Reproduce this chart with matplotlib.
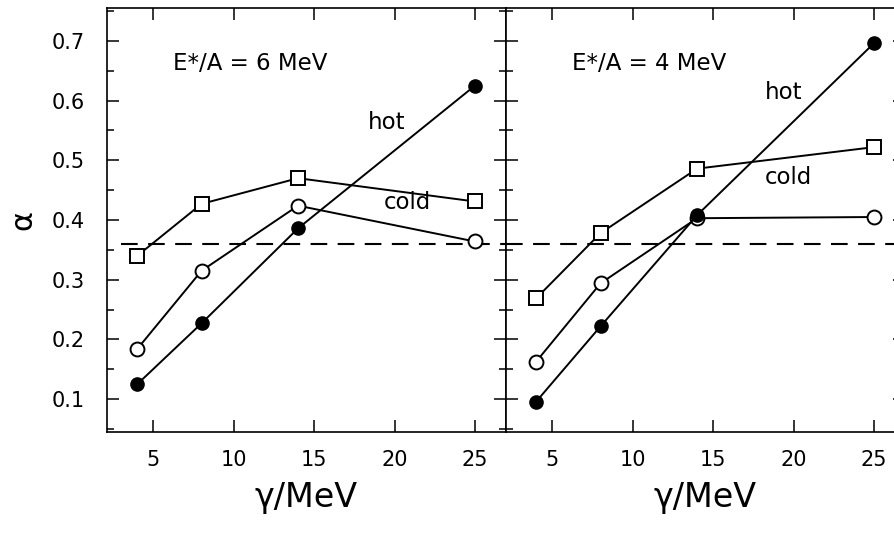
import matplotlib
matplotlib.use('Agg')
import matplotlib.pyplot as plt
from matplotlib.ticker import MultipleLocator

plt.rcParams['font.family'] = ['Liberation Sans Narrow', 'DejaVu Sans']

gamma = [4, 8, 14, 25]

# E*/A = 6 MeV
hot6 = [0.125, 0.227, 0.386, 0.625]
open6 = [0.184, 0.315, 0.424, 0.364]
cold6 = [0.340, 0.427, 0.470, 0.431]

# E*/A = 4 MeV
hot4 = [0.096, 0.222, 0.408, 0.696]
open4 = [0.163, 0.294, 0.403, 0.405]
cold4 = [0.269, 0.378, 0.486, 0.522]

ref_alpha = 0.359
panel_titles = ['E*/A = 6 MeV', 'E*/A = 4 MeV']

fig = plt.figure(figsize=(8.94, 5.39), dpi=100)
W, H = 894, 539
ax1 = fig.add_axes([107 / W, 107 / H, 399 / W, 424 / H])
ax2 = fig.add_axes([506 / W, 107 / H, 399 / W, 424 / H])

panels = [
    (ax1, hot6, open6, cold6, panel_titles[0]),
    (ax2, hot4, open4, cold4, panel_titles[1]),
]

for ax, hot, opn, cold, title in panels:
    ax.plot(gamma, cold, '-', color='black', lw=1.4, marker='s', ms=10.5,
            mfc='white', mec='black', mew=1.4, zorder=3)
    ax.plot(gamma, opn, '-', color='black', lw=1.4, marker='o', ms=10,
            mfc='white', mec='black', mew=1.4, zorder=4)
    ax.plot(gamma, hot, '-', color='black', lw=1.4, marker='o', ms=9.5,
            mfc='black', mec='black', mew=1.0, zorder=5)
    ax.set_xlim(2.12, 26.93)
    ax.set_ylim(0.045, 0.755)
    ax.xaxis.set_major_locator(MultipleLocator(5))
    ax.yaxis.set_major_locator(MultipleLocator(0.1))
    ax.yaxis.set_minor_locator(MultipleLocator(0.05))
    ax.tick_params(axis='both', which='both', direction='in',
                   top=True, right=True, width=1.1, labelsize=15)
    ax.tick_params(axis='both', which='major', length=8.5)
    ax.tick_params(axis='y', which='minor', length=5)
    ax.tick_params(axis='x', pad=13)
    ax.tick_params(axis='y', pad=16)
    for sp in ax.spines.values():
        sp.set_linewidth(1.2)
    ax.set_xlabel('γ/MeV', fontsize=24, labelpad=8)
    ax.text(0.165, 0.870, title, transform=ax.transAxes,
            fontsize=16.5, ha='left', va='center')

ax1.hlines(ref_alpha, 3.0, 26.93, colors='black', linestyles=(0, (8, 5)), lw=1.5, zorder=2)
ax2.axhline(ref_alpha, color='black', ls=(0, (8, 5)), lw=1.5, zorder=2)

ax1.set_yticks([0.1, 0.2, 0.3, 0.4, 0.5, 0.6, 0.7])
ax1.set_yticklabels(['0.1', '0.2', '0.3', '0.4', '0.5', '0.6', '0.7'])
ax2.tick_params(axis='y', labelleft=False)
ax1.set_ylabel('α', fontsize=22, labelpad=10)

ax1.text(19.5, 0.563, 'hot', fontsize=16.5, ha='center', va='center')
ax1.text(20.8, 0.430, 'cold', fontsize=16.5, ha='center', va='center')
ax2.text(19.4, 0.613, 'hot', fontsize=16.5, ha='center', va='center')
ax2.text(19.7, 0.472, 'cold', fontsize=16.5, ha='center', va='center')

fig.savefig('out.png', dpi=100)
